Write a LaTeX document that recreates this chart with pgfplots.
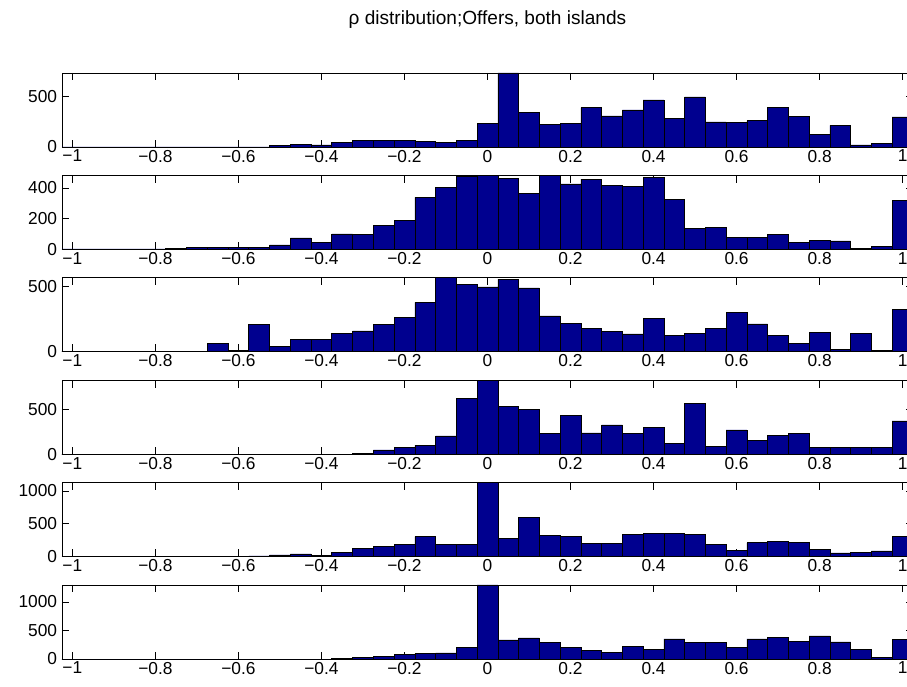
\documentclass[border=0pt]{standalone}
\usepackage{fontspec}
\setmainfont{Liberation Sans}
\usepackage{pgfplots}
\usepackage{pgfplotstable}
\pgfplotsset{compat=1.18}
\definecolor{barblue}{RGB}{0,0,143}
\pgfplotstableread{
x a b c d e f
-1 0 3 0 0 3 0
-0.95 0 3 0 0 3 0
-0.9 0 3 0 0 3 0
-0.85 0 3 0 0 3 0
-0.8 0 3 0 0 3 0
-0.75 0 4 0 0 3 0
-0.7 0 15 0 0 3 0
-0.65 0 11 64 0 3 0
-0.6 0 11 10 0 3 0
-0.55 0 11 210 0 10 0
-0.5 13 29 44 0 26 0
-0.45 26 75 92 0 41 0
-0.4 20 48 95 0 21 0
-0.35 43 101 138 0 62 3
-0.3 62 95 159 11 123 24
-0.25 62 154 210 49 159 48
-0.2 62 189 259 72 180 83
-0.15 53 339 377 99 303 95
-0.1 49 405 564 205 190 107
-0.05 66 473 515 625 190 196
0 234 482 495 833 1128 1295
0.05 730 460 554 534 272 333
0.1 339 367 487 504 600 369
0.15 224 482 274 235 328 286
0.2 234 427 218 440 313 202
0.25 388 458 179 239 205 155
0.3 306 416 154 330 205 119
0.35 365 411 136 235 333 226
0.4 464 471 254 299 354 173
0.45 286 328 126 117 354 351
0.5 494 136 141 572 344 286
0.55 247 141 179 87 180 286
0.6 243 79 297 273 92 208
0.65 260 77 213 155 210 351
0.7 392 95 128 216 236 381
0.75 300 44 62 235 215 303
0.8 125 57 149 72 113 405
0.85 214 55 15 72 56 298
0.9 20 4 138 76 67 161
0.95 36 22 8 72 87 30
1 296 319 320 375 308 345
}\data
\pgfplotsset{panel/.style={
  width=638.25pt, height=55.5pt, scale only axis, anchor=south west,
  xmin=-1.025, xmax=1.025, ymin=0,
  xtick={-1,-0.8,-0.6,-0.4,-0.2,0,0.2,0.4,0.6,0.8,1},
  xticklabels={−1,−0.8,−0.6,−0.4,−0.2,0,0.2,0.4,0.6,0.8,1},
  axis line style={black, line width=0.6pt},
  major tick style={black, line width=0.5pt},
  ticklabel style={font=\fontsize{13}{15}\selectfont},
  xticklabel style={inner sep=1pt, yshift=-1pt},
  yticklabel style={inner sep=1pt, xshift=-2.5pt},
  /pgf/number format/assume math mode=true,
  /pgf/number format/1000 sep={},
  ybar, bar width=0.05, bar shift=0pt,
  xtick pos=both, ytick pos=both,
  major tick length=5.5pt,
  xtick align=inside, ytick align=inside,
}}
\begin{document}
\begin{tikzpicture}
\path[use as bounding box] (0,0) rectangle (680.25pt,514.5pt);
\node[font=\fontsize{14.3}{17}\selectfont] at (365.6pt,500pt) {ρ distribution;Offers, both islands};
\begin{axis}[panel, at={(46.5pt,404.25pt)}, ymax=730, ytick={0,500}]
\addplot[fill=barblue, draw=black, line width=0.5pt] table[x=x,y=a] {\data};
\end{axis}
\begin{axis}[panel, at={(46.5pt,327.45pt)}, ymax=482, ytick={0,200,400}]
\addplot[fill=barblue, draw=black, line width=0.5pt] table[x=x,y=b] {\data};
\end{axis}
\begin{axis}[panel, at={(46.5pt,250.65pt)}, ymax=564, ytick={0,500}]
\addplot[fill=barblue, draw=black, line width=0.5pt] table[x=x,y=c] {\data};
\end{axis}
\begin{axis}[panel, at={(46.5pt,173.85pt)}, ymax=833, ytick={0,500}]
\addplot[fill=barblue, draw=black, line width=0.5pt] table[x=x,y=d] {\data};
\end{axis}
\begin{axis}[panel, at={(46.5pt,97.05pt)}, ymax=1128, ytick={0,500,1000}]
\addplot[fill=barblue, draw=black, line width=0.5pt] table[x=x,y=e] {\data};
\end{axis}
\begin{axis}[panel, at={(46.5pt,20.25pt)}, ymax=1295, ytick={0,500,1000}]
\addplot[fill=barblue, draw=black, line width=0.5pt] table[x=x,y=f] {\data};
\end{axis}
\end{tikzpicture}
\end{document}
